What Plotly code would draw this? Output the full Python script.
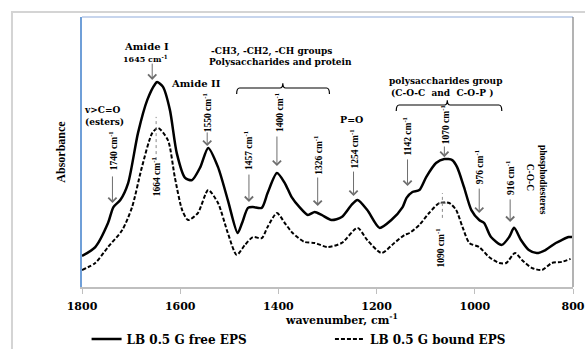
import plotly.graph_objects as go

# ---- data (wavenumber in cm-1, absorbance in arbitrary units) ----
wn_free = [1800, 1773, 1747, 1736, 1722, 1706, 1686, 1667, 1651, 1647, 1635, 1621, 1607, 1590,
           1576, 1559, 1543, 1523, 1503, 1483, 1474, 1462, 1452, 1434, 1422, 1403, 1387, 1373,
           1357, 1340, 1326, 1312, 1292, 1271, 1251, 1239, 1219, 1194, 1170, 1147, 1139, 1127,
           1113, 1099, 1079, 1062, 1046, 1036, 1022, 1007, 991, 981, 967, 945, 930, 920, 906,
           890, 874, 856, 835, 823, 809, 802]
abs_free = [0.115, 0.148, 0.237, 0.296, 0.322, 0.385, 0.570, 0.693, 0.752, 0.759, 0.741, 0.656,
            0.496, 0.404, 0.396, 0.444, 0.515, 0.444, 0.322, 0.200, 0.237, 0.293, 0.296, 0.293,
            0.348, 0.422, 0.385, 0.333, 0.296, 0.267, 0.278, 0.267, 0.248, 0.259, 0.304, 0.322,
            0.285, 0.219, 0.248, 0.296, 0.330, 0.352, 0.359, 0.407, 0.459, 0.474, 0.470, 0.444,
            0.370, 0.285, 0.248, 0.237, 0.185, 0.156, 0.185, 0.219, 0.174, 0.137, 0.126, 0.137,
            0.163, 0.174, 0.185, 0.185]

wn_bound = [1800, 1773, 1747, 1718, 1698, 1678, 1657, 1645, 1625, 1611, 1596, 1584, 1564, 1543,
            1523, 1503, 1485, 1468, 1452, 1434, 1422, 1403, 1387, 1371, 1347, 1326, 1300, 1271,
            1239, 1219, 1190, 1164, 1143, 1133, 1113, 1093, 1072, 1052, 1038, 1025, 1011, 991,
            971, 950, 936, 918, 904, 883, 863, 843, 823, 805]
abs_bound = [0.063, 0.089, 0.148, 0.211, 0.296, 0.444, 0.570, 0.589, 0.544, 0.407, 0.285, 0.248,
             0.274, 0.359, 0.311, 0.200, 0.119, 0.156, 0.185, 0.181, 0.222, 0.274, 0.237, 0.200,
             0.167, 0.163, 0.148, 0.163, 0.219, 0.174, 0.126, 0.163, 0.193, 0.200, 0.230, 0.274,
             0.311, 0.311, 0.285, 0.222, 0.163, 0.148, 0.111, 0.089, 0.089, 0.126, 0.100, 0.070,
             0.063, 0.089, 0.093, 0.104]

series_names = ["LB 0.5 G free EPS", "LB 0.5 G bound EPS"]
x_ticks = [1800, 1600, 1400, 1200, 1000, 800]

# ---- figure ----
SERIF_B = "DejaVu Serif"
TNR = "Liberation Serif"

fig = go.Figure()
fig.add_trace(go.Scatter(x=wn_free, y=abs_free, mode="lines", name=series_names[0], legend="legend",
                         line=dict(color="black", width=2.5, shape="spline", smoothing=0.7)))
fig.add_trace(go.Scatter(x=wn_bound, y=abs_bound, mode="lines", name=series_names[1], legend="legend2",
                         line=dict(color="black", width=2, dash="4px,2px", shape="spline", smoothing=0.7)))

ann = []

def txt(s, x, y, size=10, angle=0, bold=True, family=SERIF_B):
    ann.append(dict(text=s, x=x, y=y, xref="x", yref="y", showarrow=False,
                    textangle=angle, xanchor="center", yanchor="middle",
                    font=dict(family=family, size=size, color="black",
                              weight="bold" if bold else "normal")))

def arrow(x, y_head, y_tail):
    ann.append(dict(text="", x=x, y=y_head, ax=x, ay=y_tail, xref="x", yref="y",
                    axref="x", ayref="y", showarrow=True, arrowhead=4, arrowsize=1.6,
                    arrowwidth=1, arrowcolor="#6e6e6e"))

# group labels
txt("Amide I", 1668, 0.889, 10)
txt("1645 cm<sup>-1</sup>", 1670, 0.846, 8)
txt("Amide II", 1568, 0.752, 10)
txt("v>C=O", 1759, 0.656, 9)
txt("(esters)", 1755, 0.611, 9)
txt("-CH3, -CH2, -CH groups", 1414, 0.874, 9)
txt("Polysaccharides and protein", 1395, 0.833, 9)
txt("polysaccharides group", 1060, 0.763, 9)
txt("(C-O-C  and  C-O-P )", 1066, 0.719, 9)
txt("P=O", 1251, 0.619, 9.5)

# rotated wavenumber labels
rot = [("1740 cm<sup>-1</sup>", 1738, 0.504), ("1664 cm<sup>-1</sup>", 1649, 0.407),
       ("1550 cm<sup>-1</sup>", 1545, 0.644), ("1457 cm<sup>-1</sup>", 1462, 0.507),
       ("1400 cm<sup>-1</sup>", 1399, 0.648), ("1326 cm<sup>-1</sup>", 1320, 0.489),
       ("1254 cm<sup>-1</sup>", 1245, 0.511), ("1142 cm<sup>-1</sup>", 1137, 0.559),
       ("1070 cm<sup>-1</sup>", 1060, 0.600), ("1090 cm<sup>-1</sup>", 1070, 0.144),
       ("976 cm<sup>-1</sup>", 991, 0.444), ("916 cm<sup>-1</sup>", 928, 0.404)]
for s, x, y in rot:
    txt(s, x, y, 9.5, -90, bold=True, family=TNR)
txt("C-O-C", 887, 0.404, 9.5, 90, bold=True, family=TNR)
txt("phosphodiesteres", 861, 0.396, 9.5, 90, bold=True, family=TNR)

# arrows
arrow(1657, 0.767, 0.833)
arrow(1738, 0.311, 0.415)
arrow(1545, 0.522, 0.578)
arrow(1460, 0.315, 0.422)
arrow(1403, 0.448, 0.563)
arrow(1320, 0.300, 0.411)
arrow(1247, 0.337, 0.433)
arrow(1137, 0.374, 0.478)
arrow(1062, 0.481, 0.526)
arrow(991, 0.274, 0.370)
arrow(928, 0.241, 0.330)

# x-axis title as annotation
ann.append(dict(text="wavenumber, cm<sup>-1</sup>", x=0.5285, y=-0.12, xref="paper", yref="paper",
                showarrow=False, xanchor="center", yanchor="middle",
                font=dict(family=SERIF_B, size=11, color="black", weight="bold")))

shapes = []
# dotted marker lines
shapes.append(dict(type="line", x0=1649, x1=1649, y0=0.470, y1=0.630, xref="x", yref="y",
                   line=dict(color="#8a8a8a", width=1, dash="dot")))
shapes.append(dict(type="line", x0=1066, x1=1066, y0=0.256, y1=0.348, xref="x", yref="y",
                   line=dict(color="#8a8a8a", width=1, dash="dot")))
shapes.append(dict(type="line", x0=1074, x1=1058, y0=0.311, y1=0.311, xref="x", yref="y",
                   line=dict(color="#8a8a8a", width=1)))

# curly brackets
def brace(x0, x1, xc, ym, yend, ytop, d):
    p = (f"M{x0},{yend} Q{x0},{ym} {x0 - d},{ym} L{xc + d},{ym} Q{xc},{ym} {xc},{ytop} "
         f"Q{xc},{ym} {xc - d},{ym} L{x1 + d},{ym} Q{x1},{ym} {x1},{yend}")
    shapes.append(dict(type="path", path=p, xref="x", yref="y",
                       line=dict(color="black", width=1.2)))

brace(1485, 1296, 1391, 0.737, 0.715, 0.755, 6)
brace(1160, 945, 1056, 0.674, 0.652, 0.692, 6)

# outer frame and plot-area border
shapes.append(dict(type="rect", xref="paper", yref="paper", x0=-0.1426, x1=1.2, y0=-0.4, y1=1.0185,
                   line=dict(color="#d4d4d4", width=2), layer="below"))
shapes.append(dict(type="line", xref="paper", yref="paper", x0=0, x1=1, y0=1, y1=1,
                   line=dict(color="#b4c7e7", width=1.5)))
shapes.append(dict(type="line", xref="paper", yref="paper", x0=1, x1=1, y0=0, y1=1,
                   line=dict(color="#808080", width=1.2)))

leg_font = dict(family=SERIF_B, size=12, color="black", weight="bold")
fig.update_layout(
    width=585, height=349,
    margin=dict(l=82, r=12, t=17, b=62, autoexpand=False),
    paper_bgcolor="white", plot_bgcolor="white",
    annotations=ann, shapes=shapes,
    showlegend=True,
    legend=dict(orientation="h", x=0.148, xref="container", y=0.0287, yref="container",
                xanchor="left", yanchor="middle", font=leg_font, itemwidth=30,
                bgcolor="rgba(0,0,0,0)"),
    legend2=dict(orientation="h", x=0.564, xref="container", y=0.0287, yref="container",
                 xanchor="left", yanchor="middle", font=leg_font, itemwidth=30,
                 bgcolor="rgba(0,0,0,0)"),
    xaxis=dict(range=[1800, 800], tickvals=x_ticks, ticks="outside", ticklen=5,
               tickcolor="#bfbfbf", showline=True, linecolor="#bfbfbf", linewidth=1.5,
               showgrid=False, zeroline=False, ticklabelstandoff=3, automargin=False,
               tickfont=dict(family=SERIF_B, size=11, color="black", weight="bold")),
    yaxis=dict(range=[0, 1], showticklabels=False, ticks="", showline=True,
               linecolor="#6f9fd8", linewidth=1.5, showgrid=False, zeroline=False,
               automargin=False,
               title=dict(text="Absorbance", standoff=12,
                          font=dict(family=TNR, size=12, color="black", weight="bold"))),
)

fig.write_html("out.html", config={"displayModeBar": False},
               post_script="document.body.style.margin='0';document.body.style.padding='0';"
                           "document.body.style.overflow='hidden';")
